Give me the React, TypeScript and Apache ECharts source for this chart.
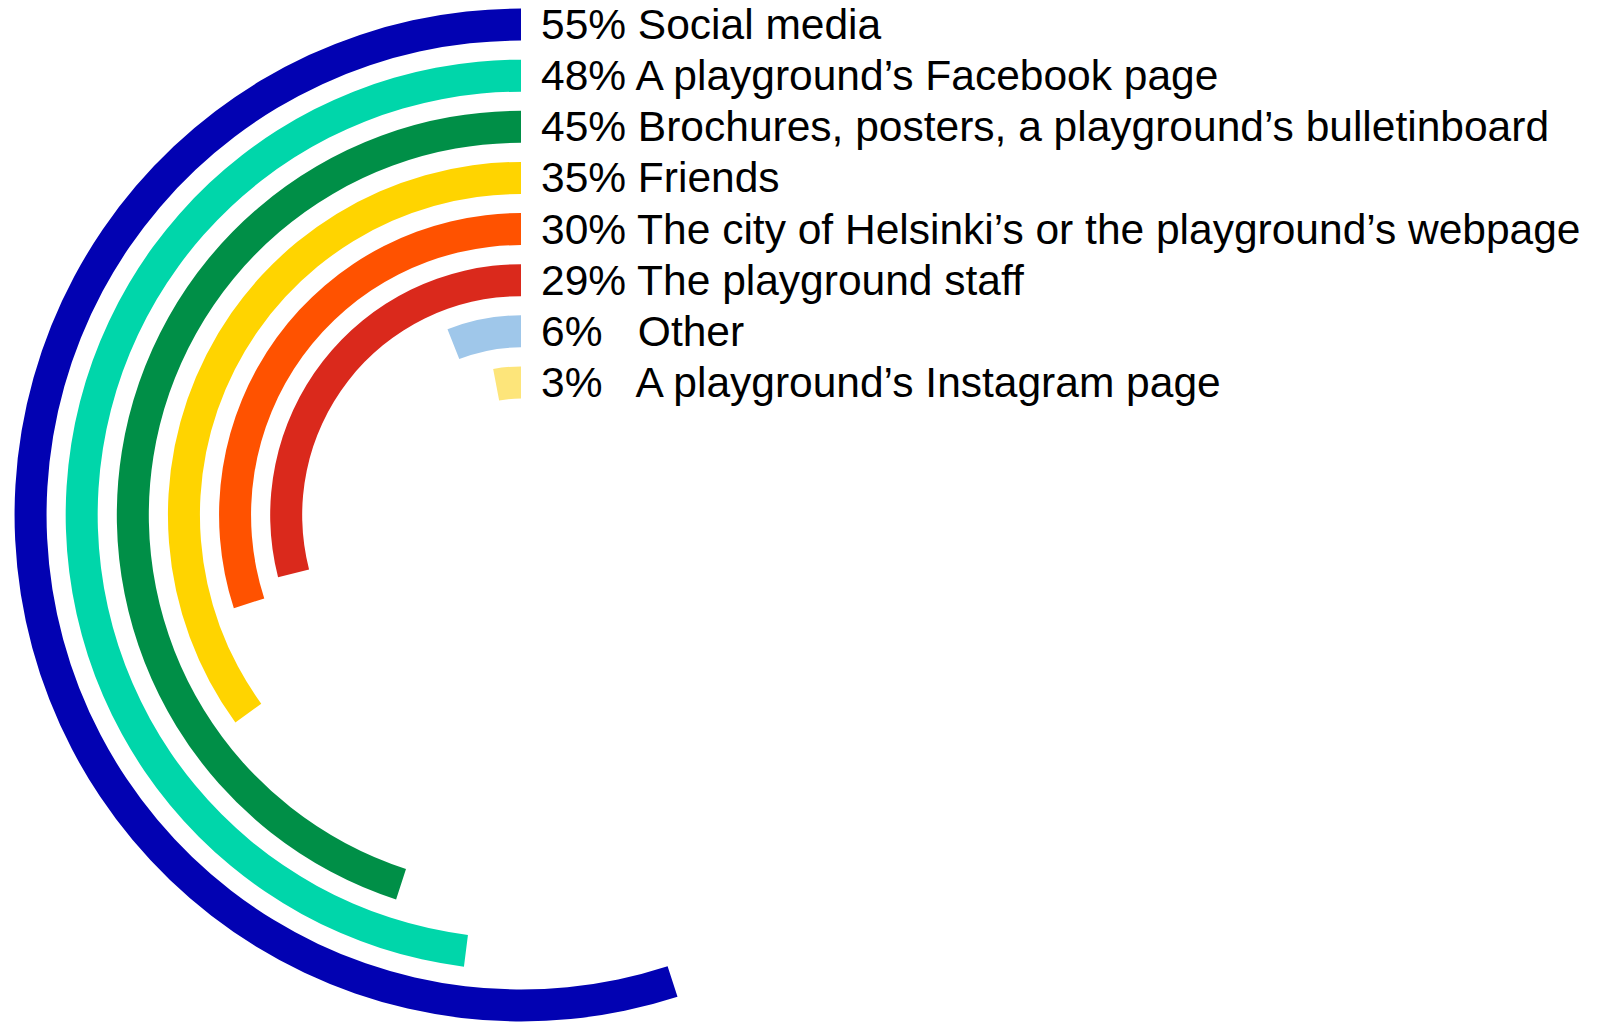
import React, { useEffect, useRef } from "react";
import * as echarts from "echarts";

// Outermost first
const categories = [
  "Social media",
  "A playground’s Facebook page",
  "Brochures, posters, a playground’s bulletinboard",
  "Friends",
  "The city of Helsinki’s or the playground’s webpage",
  "The playground staff",
  "Other",
  "A playground’s Instagram page",
];
const values = [55, 48, 45, 35, 30, 29, 6, 3];
const colors = [
  "#0202b2",
  "#00d6aa",
  "#008f47",
  "#ffd400",
  "#ff5200",
  "#da291c",
  "#9fc7ea",
  "#fde57a",
];

export default function App() {
  const ref = useRef<HTMLDivElement>(null);
  useEffect(() => {
    if (!ref.current) return;
    const chart = echarts.init(ref.current, undefined, { renderer: "svg" });
    chart.setOption({
      animation: false,
      backgroundColor: "#ffffff",
      polar: { center: [521, 515], radius: [107, 516] },
      angleAxis: {
        type: "value",
        min: 0,
        max: 100,
        startAngle: 90,
        clockwise: false,
        show: false,
      },
      radiusAxis: {
        type: "category",
        data: categories,
        inverse: true,
        axisLine: { show: false },
        axisTick: { show: false },
        splitLine: { show: false },
        axisLabel: {
          show: true,
          interval: 0,
          margin: -20,
          align: "left",
          padding: [4, 0, 0, 0],
          fontFamily: "Liberation Sans",
          fontSize: 42.5,
          color: "#000000",
          formatter: (v: string, i: number) =>
            `${values[i]}%${values[i] < 10 ? "   " : " "}${v}`,
        },
        z: 10,
      },
      series: [
        {
          type: "bar",
          coordinateSystem: "polar",
          barWidth: 32,
          data: values.map((v, i) => ({ value: v, itemStyle: { color: colors[i] } })),
        },
      ],
    });
    return () => chart.dispose();
  }, []);
  return (
    <div
      ref={ref}
      style={{ position: "fixed", left: 0, top: 0, width: 1609, height: 1022 }}
    />
  );
}
